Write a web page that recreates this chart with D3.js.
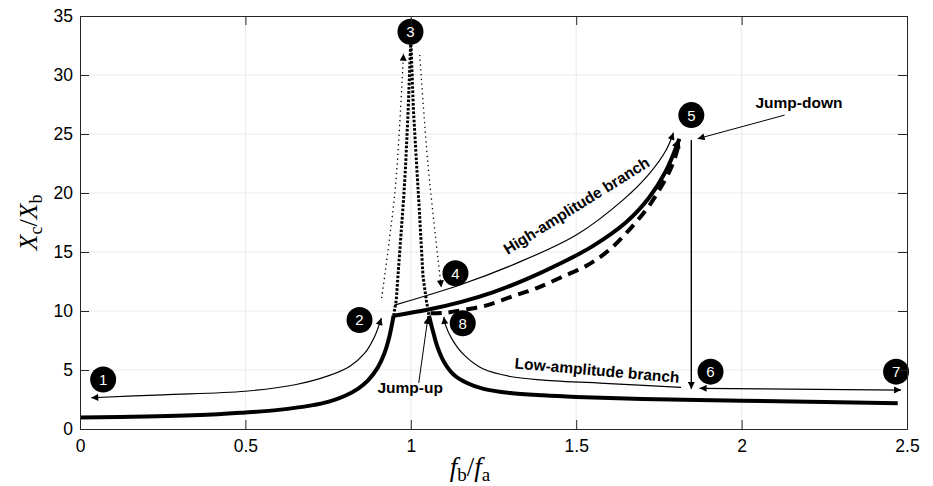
<!DOCTYPE html>
<html>
<head>
<meta charset="utf-8">
<script src="https://cdn.jsdelivr.net/npm/d3@7"></script>
<style>
  body { margin: 0; background: #fff; }
  svg { display: block; }
  .tick text { font-family: "Liberation Sans", Arial, sans-serif; font-size: 17.5px; fill: #000; }
</style>
</head>
<body>
<svg id="chart" width="933" height="486"></svg>
<script>
// ---- axis ticks ----
const xTicks = [0, 0.5, 1, 1.5, 2, 2.5];
const yTicks = [0, 5, 10, 15, 20, 25, 30, 35];

// ---- response branches: [f_b/f_a, X_c/X_b] ----
const stableLow = [[0,0.97],[0.2,1.05],[0.4,1.22],[0.5,1.4],[0.6,1.62],[0.7,2.0],[0.75,2.3],
  [0.8,2.8],[0.84,3.4],[0.87,4.1],[0.9,5.2],[0.92,6.4],[0.935,7.8],[0.948,9.6]];
const stableHigh = [[0.948,9.6],[1.05,10.1],[1.15,10.75],[1.25,11.6],[1.35,12.7],[1.45,14.0],
  [1.55,15.5],[1.65,17.5],[1.72,19.6],[1.77,21.8],[1.812,24.6]];
const stableRight = [[1.055,9.6],[1.065,8.5],[1.08,7.0],[1.1,5.7],[1.13,4.6],[1.17,3.9],
  [1.22,3.4],[1.3,3.05],[1.4,2.85],[1.5,2.72],[1.7,2.55],[2.0,2.4],[2.25,2.28],[2.472,2.18]];
const unstablePeak = [[0.948,9.6],[0.956,10.9],[0.961,12.9],[0.978,19.4],[0.984,22.2],
  [0.992,27.0],[1.0,33.0],[1.008,27.0],[1.018,22.2],[1.024,19.4],[1.037,12.9],[1.047,10.9],[1.055,9.6]];
const unstableUpper = [[1.06,9.8],[1.105,9.85],[1.16,10.1],[1.232,10.5],[1.313,11.3],[1.379,11.92],
  [1.45,12.8],[1.535,13.9],[1.601,15.2],[1.661,16.9],[1.712,18.6],[1.752,20.3],[1.783,21.9],
  [1.8,23.1],[1.809,24.0]];

// ---- sweep annotations ----
const sweepDownLow = [[0.034,2.65],[0.25,2.9],[0.5,3.2],[0.65,3.75],[0.75,4.5],[0.815,5.3],
  [0.86,6.4],[0.89,7.8],[0.911,9.4]];
const peakRise = [[0.912,11.1],[0.935,16.0],[0.955,21.0],[0.978,31.8]];
const peakFall = [[1.027,31.7],[1.052,22.4],[1.092,12.0]];
const sweepUpHigh = [[0.951,10.5],[1.148,12.2],[1.319,14.04],[1.5,16.44],[1.641,19.4],
  [1.722,21.67],[1.772,23.64],[1.794,25.1]];
const sweepDownRight = [[1.817,3.53],[1.6,3.85],[1.4,4.15],[1.3,4.45],[1.218,5.1],[1.16,6.3],
  [1.125,7.6],[1.105,8.8],[1.1,9.5]];
const jumpDownLine = [[1.848,24.5],[1.848,3.4]];
const sweep67 = [[1.873,3.45],[2.482,3.3]];
const jumpDownPointer = [[2.13,26.6],[1.867,24.6]];
const jumpUpPointer = [[1.024,3.9],[1.052,9.5]];

// ---- numbered states ----
const stateLabels = ["1","2","3","4","5","6","7","8"];
const stateX = [0.07, 0.845, 0.999, 1.135, 1.848, 1.906, 2.467, 1.157];
const stateY = [4.2, 9.24, 33.67, 13.2, 26.6, 4.86, 4.86, 8.96];

const svg = d3.select("#chart");
const mLeft = 80, mRight = 907, mTop = 16, mBottom = 429;
const x = d3.scaleLinear().domain([0, 2.5]).range([mLeft, mRight]);
const y = d3.scaleLinear().domain([0, 35]).range([mBottom, mTop]);

const defs = svg.append("defs");
function arrowMarker(id, w, h) {
  defs.append("marker").attr("id", id)
    .attr("viewBox", "0 0 10 10").attr("refX", 10).attr("refY", 5)
    .attr("markerUnits", "userSpaceOnUse")
    .attr("markerWidth", w).attr("markerHeight", h)
    .attr("orient", "auto-start-reverse")
    .append("path").attr("d", "M0,0 L10,5 L0,10 z").attr("fill", "#000");
}
arrowMarker("arr", 9, 7);
arrowMarker("arrBig", 11, 9);

// grid
const grid = svg.append("g");
grid.selectAll("line.gx").data(xTicks.slice(1, -1)).join("line")
  .attr("x1", d => x(d)).attr("x2", d => x(d)).attr("y1", mTop).attr("y2", mBottom)
  .attr("stroke", "#ebebeb").attr("stroke-width", 1);
grid.selectAll("line.gy").data(yTicks.slice(1, -1)).join("line")
  .attr("x1", mLeft).attr("x2", mRight).attr("y1", d => y(d)).attr("y2", d => y(d))
  .attr("stroke", "#ebebeb").attr("stroke-width", 1);

const smooth = d3.line().x(d => x(d[0])).y(d => y(d[1])).curve(d3.curveCatmullRom.alpha(0.5));
const straight = d3.line().x(d => x(d[0])).y(d => y(d[1]));

const plot = svg.append("g").attr("fill", "none").attr("stroke", "#000");

// branches
plot.append("path").attr("d", smooth(stableLow)).attr("stroke-width", 4);
plot.append("path").attr("d", smooth(stableHigh)).attr("stroke-width", 4)
  .attr("marker-end", "url(#arrBig)");
plot.append("path").attr("d", smooth(stableRight)).attr("stroke-width", 4);
plot.append("path").attr("d", straight(unstablePeak)).attr("stroke-width", 3)
  .attr("stroke-dasharray", "2.6,1.6");
plot.append("path").attr("d", smooth(unstableUpper)).attr("stroke-width", 4)
  .attr("stroke-dasharray", "11,7");

// sweep paths
plot.append("path").attr("d", smooth(sweepDownLow)).attr("stroke-width", 1.2)
  .attr("marker-start", "url(#arr)").attr("marker-end", "url(#arr)");
plot.append("path").attr("d", smooth(peakRise)).attr("stroke-width", 1.3)
  .attr("stroke-dasharray", "1.3,3.5").attr("marker-end", "url(#arr)");
plot.append("path").attr("d", smooth(peakFall)).attr("stroke-width", 1.3)
  .attr("stroke-dasharray", "1.3,3.5").attr("marker-end", "url(#arr)");
plot.append("path").attr("d", smooth(sweepUpHigh)).attr("stroke-width", 1.2)
  .attr("marker-end", "url(#arr)");
plot.append("path").attr("d", smooth(sweepDownRight)).attr("stroke-width", 1.2)
  .attr("marker-end", "url(#arr)");
plot.append("path").attr("d", straight(jumpDownLine)).attr("stroke-width", 1.4)
  .attr("marker-end", "url(#arr)");
plot.append("path").attr("d", straight(sweep67)).attr("stroke-width", 1.2)
  .attr("marker-start", "url(#arr)").attr("marker-end", "url(#arr)");
plot.append("path").attr("d", straight(jumpDownPointer)).attr("stroke-width", 1)
  .attr("marker-end", "url(#arr)");
plot.append("path").attr("d", straight(jumpUpPointer)).attr("stroke-width", 1)
  .attr("marker-end", "url(#arr)");

// annotation text
const annFont = "'Liberation Sans', Arial, sans-serif";
function note(txt, px, py, angle, anchor) {
  svg.append("text")
    .attr("transform", `translate(${x(px)},${y(py)}) rotate(${angle})`)
    .attr("text-anchor", anchor)
    .attr("font-family", annFont).attr("font-size", 15.5).attr("font-weight", "bold")
    .text(txt);
}
note("High-amplitude branch", 1.293, 14.75, -32, "start");
note("Low-amplitude branch", 1.313, 5.13, 5, "start");
note("Jump-up", 0.998, 3.05, 0, "middle");
note("Jump-down", 2.042, 27.2, 0, "start");

// numbered state markers
const states = svg.append("g").selectAll("g").data(stateLabels).join("g")
  .attr("transform", (d, i) => `translate(${x(stateX[i])},${y(stateY[i])})`);
states.append("circle").attr("r", 13).attr("fill", "#000");
states.append("text").text(d => d)
  .attr("text-anchor", "middle").attr("dy", "0.36em")
  .attr("font-family", annFont).attr("font-size", 15).attr("fill", "#fff");

// axes
const ax = svg.append("g");
const xAxis = d3.axisBottom(x).tickValues(xTicks).tickFormat(d3.format("")).tickSizeInner(-9).tickSizeOuter(0).tickPadding(11);
const yAxis = d3.axisLeft(y).tickValues(yTicks).tickFormat(d3.format("")).tickSizeInner(-9).tickSizeOuter(0).tickPadding(7);
const xTop = d3.axisTop(x).tickValues(xTicks).tickFormat("").tickSizeInner(-9).tickSizeOuter(0);
const yRight = d3.axisRight(y).tickValues(yTicks).tickFormat("").tickSizeInner(-9).tickSizeOuter(0);
ax.append("g").attr("transform", `translate(0,${mBottom})`).call(xAxis);
ax.append("g").attr("transform", `translate(${mLeft},0)`).call(yAxis);
ax.append("g").attr("transform", `translate(0,${mTop})`).call(xTop);
ax.append("g").attr("transform", `translate(${mRight},0)`).call(yRight);
ax.selectAll(".domain").attr("stroke", "#262626");
ax.selectAll(".tick line").attr("stroke", "#262626");

// axis titles
const mathFont = "'Liberation Serif', 'DejaVu Serif', serif";
const xt = svg.append("text").attr("x", 470).attr("y", 476)
  .attr("text-anchor", "middle").attr("font-family", mathFont).attr("font-size", 27);
xt.append("tspan").attr("font-style", "italic").text("f");
xt.append("tspan").attr("font-size", 19).attr("dy", 5).text("b");
xt.append("tspan").attr("dy", -5).text("/");
xt.append("tspan").attr("font-style", "italic").text("f");
xt.append("tspan").attr("font-size", 19).attr("dy", 5).text("a");

const yt = svg.append("text").attr("transform", `translate(37,${(mTop + mBottom) / 2}) rotate(-90)`)
  .attr("text-anchor", "middle").attr("font-family", mathFont).attr("font-size", 26);
yt.append("tspan").attr("font-style", "italic").text("X");
yt.append("tspan").attr("font-size", 18).attr("dy", 5).text("c");
yt.append("tspan").attr("dy", -5).text("/");
yt.append("tspan").attr("font-style", "italic").text("X");
yt.append("tspan").attr("font-size", 18).attr("dy", 5).text("b");
</script>
</body>
</html>
